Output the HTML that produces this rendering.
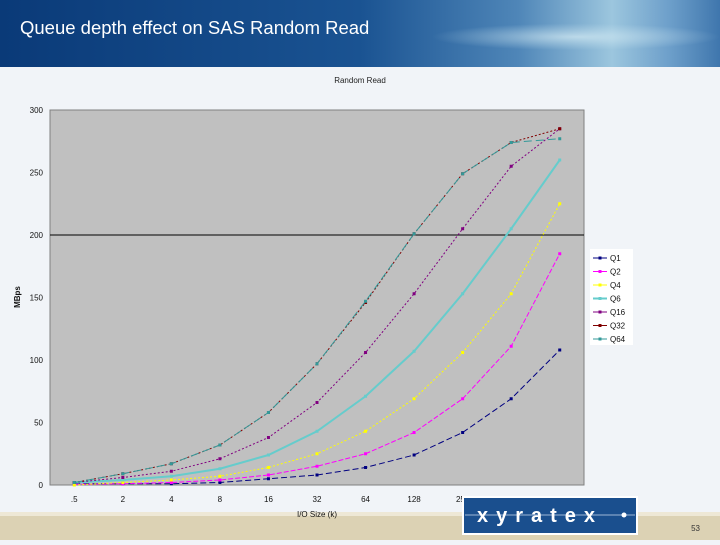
<!DOCTYPE html>
<html><head><meta charset="utf-8"><style>
body{margin:0;width:720px;height:540px;overflow:hidden;background:#f1f4f8;font-family:"Liberation Sans",sans-serif;}
</style></head><body>
<svg width="720" height="540" xmlns="http://www.w3.org/2000/svg">
<defs>
<linearGradient id="hdr" x1="0" x2="1" y1="0" y2="0">
<stop offset="0" stop-color="#0a3a78"/><stop offset="0.5" stop-color="#1a5392"/><stop offset="0.72" stop-color="#4f86b8"/><stop offset="0.85" stop-color="#9cc6de"/><stop offset="0.93" stop-color="#6d9fca"/><stop offset="1" stop-color="#3f76ad"/>
</linearGradient>
<radialGradient id="glow" cx="0.8" cy="0.55" r="0.2"><stop offset="0" stop-color="#d6ecf4" stop-opacity="0.7"/><stop offset="1" stop-color="#c9e4f0" stop-opacity="0"/></radialGradient>
</defs>
<g>
<rect x="0" y="0" width="720" height="67" fill="url(#hdr)"/>
<rect x="0" y="0" width="720" height="67" fill="url(#glow)"/>
<text x="20" y="34" font-size="18.5" fill="#fff">Queue depth effect on SAS Random Read</text>
</g>
<rect x="0" y="515" width="720" height="25" fill="#dcd2b4"/>
<rect x="0" y="512" width="720" height="4" fill="#eee8d6"/>
<text x="360" y="83" font-size="8" text-anchor="middle" fill="#222">Random Read</text>
<rect x="50" y="110" width="534" height="375" fill="#c0c0c0" stroke="#808080"/>
<g id="axes"></g>
<g id="series"></g>
<text x="20" y="297" font-size="8" font-weight="bold" transform="rotate(-90 20 297)" text-anchor="middle" fill="#111">MBps</text>
<text x="317" y="517" font-size="8" text-anchor="middle" fill="#111">I/O Size (k)</text>
<g id="legend"><rect x="590" y="249" width="43" height="96" fill="#fff"/></g>
<g>
<rect x="463" y="497" width="174" height="37" fill="#1a4f8e" stroke="#fff" stroke-width="2"/>
<line x1="465" y1="515" x2="635" y2="515" stroke="#9fb7d6" stroke-width="1"/>
<text x="540" y="522" font-size="20" font-weight="bold" fill="#fff" text-anchor="middle" letter-spacing="8">xyratex</text>
<circle cx="624" cy="515" r="2.5" fill="#fff"/>
</g>
<text x="700" y="531" font-size="8" fill="#333" text-anchor="end">53</text>
</svg>
<script>
const categories=[".5","2","4","8","16","32","64","128","256","512","1024"];
const yTicks=[0,50,100,150,200,250,300];
const q1=[1,1,1,2,5,8,14,24,42,69,108];
const q2=[0.5,1,2,4,8,15,25,42,69,111,185];
const q4=[0,2,4,7,14,25,43,69,106,153,225];
const q6=[2,4,7,13,24,43,71,107,153,205,260];
const q16=[2,6,11,21,38,66,106,153,205,255,285];
const q32=[2,9,17,32,58,97,146,201,249,274,285];
const q64=[2,9,17,32,58,97,147,201,249,274,277];
const names=["Q1","Q2","Q4","Q6","Q16","Q32","Q64"];
const NS="http://www.w3.org/2000/svg";
const X0=50,W=534,Y0=485,H=375,YMAX=300;
const bw=W/categories.length;
function xs(i){return X0+bw*(i+0.5);}
function ys(v){return Y0-v/YMAX*H;}
function mk(t,a,p){const e=document.createElementNS(NS,t);for(const k in a)e.setAttribute(k,a[k]);p.appendChild(e);return e;}
const ax=document.getElementById('axes');
yTicks.forEach(v=>{
  const t=mk('text',{x:43,y:ys(v)+3,'font-size':8,'text-anchor':'end',fill:'#111'},ax);t.textContent=v;
  
  
});
const gl=mk('line',{x1:X0,x2:X0+W,y1:ys(200),y2:ys(200),stroke:'#000','stroke-width':1},ax);


categories.forEach((c,i)=>{
  const t=mk('text',{x:xs(i),y:502,'font-size':8,'text-anchor':'middle',fill:'#111'},ax);t.textContent=c;
  
  
});
const data=[q1,q2,q4,q6,q16,q32,q64];
const colors=["#000080","#ff00ff","#ffff00","#66cccc","#800080","#800000","#339999"];
const widths=[1,1,1,2,1,1,1];
const dashes=["6,3","5,2","2,2","","2,2","2,2","8,4"];
const sg=document.getElementById('series');
data.forEach((d,s)=>{
  const g=mk('g',{},sg);
  
  
  const pts=d.map((v,i)=>xs(i)+','+ys(v)).join(' ');
  const pl=mk('polyline',{points:pts,fill:'none',stroke:colors[s],'stroke-width':widths[s],'stroke-dasharray':dashes[s]},g);
  
  
  d.forEach((v,i)=>{
    const m=mk('rect',{x:xs(i)-1.5,y:ys(v)-1.5,width:3,height:3,fill:colors[s]},g);
    
    
  });
});
const lg=document.getElementById('legend');
names.forEach((n,s)=>{
  const y=258+s*13.5;
  const l=mk('line',{x1:593,x2:607,y1:y,y2:y,stroke:colors[s],'stroke-width':widths[s]},lg);
  
  
  mk('rect',{x:598.5,y:y-1.5,width:3,height:3,fill:colors[s]},lg);
  const t=mk('text',{x:610,y:y+3,'font-size':8,fill:'#111'},lg);t.textContent=n;
  
  
});
</script>
</body></html>
